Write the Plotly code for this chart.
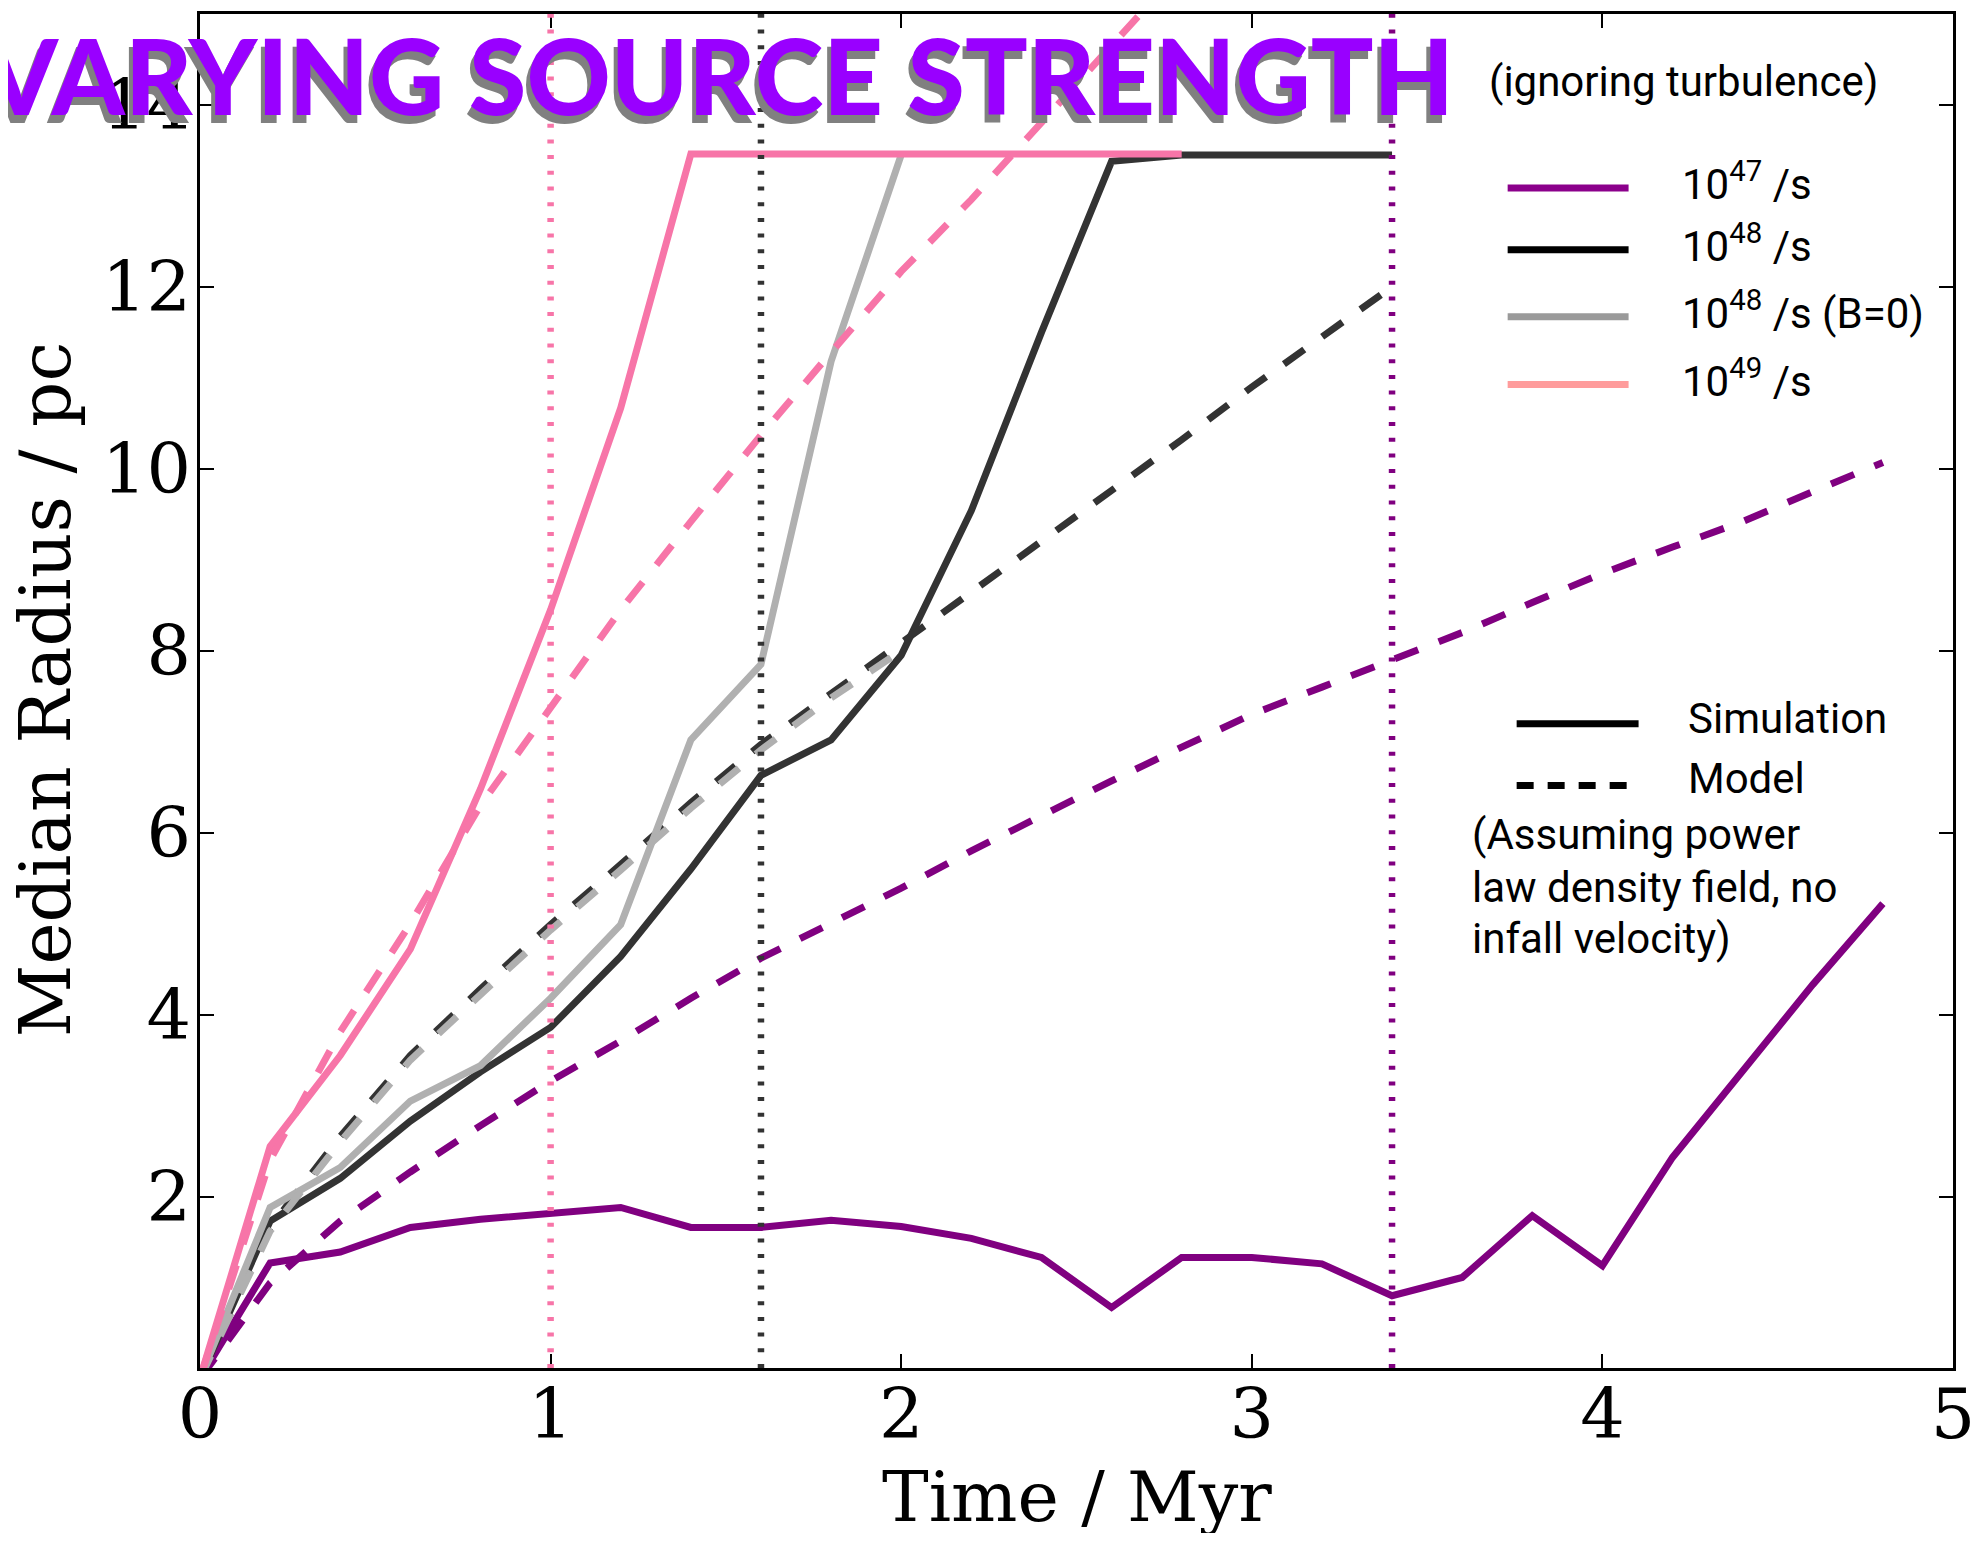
import plotly.graph_objects as go

# ---------------- data ----------------
times_47 = [0, 0.2, 0.4, 0.6, 0.8, 1.0, 1.2, 1.4, 1.6, 1.8, 2.0, 2.2, 2.4, 2.6, 2.8,
            3.0, 3.2, 3.4, 3.6, 3.8, 4.0, 4.2, 4.4, 4.6, 4.8]
sim_47 = [0, 1.27, 1.39, 1.66, 1.75, 1.82, 1.88, 1.66, 1.66, 1.74, 1.67, 1.54, 1.33, 0.78,
          1.33, 1.33, 1.26, 0.91, 1.11, 1.79, 1.24, 2.43, 3.39, 4.33, 5.22]
model_47 = [0, 1.05, 1.73, 2.27, 2.78, 3.27, 3.71, 4.18, 4.62, 5.0, 5.39, 5.8, 6.19, 6.57,
            6.94, 7.30, 7.6, 7.89, 8.2, 8.53, 8.85, 9.14, 9.42, 9.75, 10.07]

times_48 = [0, 0.2, 0.4, 0.6, 0.8, 1.0, 1.2, 1.4, 1.6, 1.8, 2.0, 2.2, 2.4, 2.6, 2.8,
            3.0, 3.2, 3.4]
sim_48 = [0, 1.73, 2.20, 2.83, 3.37, 3.86, 4.64, 5.6, 6.63, 7.02, 7.95, 9.54, 11.5, 13.38,
          13.45, 13.45, 13.45, 13.45]
model_48 = [0, 1.66, 2.66, 3.55, 4.28, 4.99, 5.65, 6.33, 6.97, 7.53, 8.08, 8.65, 9.2, 9.75,
            10.32, 10.9, 11.45, 12.0]

times_48b = [0, 0.2, 0.4, 0.6, 0.8, 1.0, 1.2, 1.4, 1.6, 1.8, 2.0]
sim_48b = [0, 1.88, 2.32, 3.05, 3.44, 4.18, 4.99, 7.02, 7.85, 11.18, 13.45]
model_48b = [0, 1.62, 2.6, 3.5, 4.22, 4.93, 5.59, 6.27, 6.91, 7.48, 8.0]

times_49 = [0, 0.2, 0.4, 0.6, 0.8, 1.0, 1.2, 1.4, 1.6, 1.8, 2.0, 2.2, 2.4, 2.6, 2.8]
sim_49 = [0, 2.55, 3.55, 4.72, 6.48, 8.45, 10.67, 13.46, 13.46, 13.46, 13.46, 13.46, 13.46,
          13.46, 13.46]
model_49 = [0, 2.4, 3.81, 5.0, 6.3, 7.36, 8.45, 9.42, 10.37, 11.28, 12.17, 12.96, 13.8,
            14.65, 15.5]

marker_times = [1.0, 1.6, 3.4]

x_ticks = [0, 1, 2, 3, 4, 5]
y_ticks = [2, 4, 6, 8, 10, 12, 14]

legend_labels = ["10<sup>47</sup> /s", "10<sup>48</sup> /s", "10<sup>48</sup> /s (B=0)",
                 "10<sup>49</sup> /s"]

# ---------------- styles ----------------
C47, C48, C48B, C49 = "#800080", "#333333", "#b0b0b0", "#f775a8"
LEG_COLORS = ["#8b008b", "#000000", "#9a9a9a", "#ff9c9c"]
MARK_COLORS = [C49, C48, C47]

# page has an 8px body margin: work in page pixels, convert to figure paper coords
OFF = 8
FW, FH = 1970, 1525
P_L, P_R, P_T, P_B = 199.6, 1953.6, 10.7, 1367.7   # plot area in page pixels
ML = P_L - OFF
MR = FW - (P_R - OFF)
MT = P_T - OFF
MB = FH - (P_B - OFF)
PW, PH = P_R - P_L, P_B - P_T


def px(x):
    return (x - P_L) / PW


def py(y):
    return (P_B - y) / PH


LW = 7
DASH = "25px,22px"

fig = go.Figure()

series = [
    (times_47, sim_47, model_47, C47),
    (times_48, sim_48, model_48, C48),
    (times_48b, sim_48b, model_48b, C48B),
    (times_49, sim_49, model_49, C49),
]
for t, s, m, c in series:
    fig.add_trace(go.Scatter(x=t, y=s, mode="lines", line=dict(color=c, width=LW),
                             showlegend=False, hoverinfo="skip"))
    fig.add_trace(go.Scatter(x=t, y=m, mode="lines",
                             line=dict(color=c, width=LW, dash=DASH),
                             showlegend=False, hoverinfo="skip"))

for tm, c in zip(marker_times, MARK_COLORS):
    fig.add_shape(type="line", xref="x", yref="paper", x0=tm, x1=tm, y0=0, y1=1,
                  line=dict(color=c, width=6.5, dash="4px,11.7px"))

SERIF = "DejaVu Serif"
SANS = "Roboto"

fig.update_xaxes(range=[0, 5], tickvals=x_ticks, ticks="inside", ticklen=14, tickwidth=2,
                 tickcolor="black", showline=True, linewidth=3, linecolor="black",
                 mirror="ticks", showgrid=False, zeroline=False, ticklabelstandoff=-17,
                 tickfont=dict(family=SERIF, size=70, color="black"))
fig.update_yaxes(range=[0.115, 15.0], tickvals=y_ticks, ticks="inside", ticklen=14,
                 tickwidth=2, tickcolor="black", showline=True, linewidth=3,
                 linecolor="black", mirror="ticks", showgrid=False, zeroline=False,
                 ticklabelstandoff=-8,
                 tickfont=dict(family=SERIF, size=70, color="black"))

ann = []
# axis titles
ann.append(dict(text="Time / Myr", x=px(1077), y=py(1497), xref="paper", yref="paper",
                showarrow=False, xanchor="center", yanchor="middle",
                font=dict(family=SERIF, size=70, color="black")))
ann.append(dict(text="Median Radius / pc", x=px(45), y=py(687), xref="paper",
                yref="paper", showarrow=False, xanchor="center", yanchor="middle",
                textangle=-90, font=dict(family=SERIF, size=71, color="black")))

# big title with drop shadow
ann.append(dict(text="VARYING SOURCE STRENGTH", x=px(1456), y=py(71), xref="paper",
                yref="paper", showarrow=False, xanchor="right", yanchor="middle",
                font=dict(family="Lato", weight=900, size=104, color="#9900ff",
                          shadow="-4px 8px 0px #808080")))
ann.append(dict(text="(ignoring turbulence)", x=px(1487), y=py(78), xref="paper",
                yref="paper", showarrow=False, xanchor="left", yanchor="middle",
                font=dict(family=SANS, size=42, color="black")))

# series legend
leg_y = [185, 247, 314, 382]
for lab, c, yy in zip(legend_labels, LEG_COLORS, leg_y):
    fig.add_shape(type="line", xref="paper", yref="paper", x0=px(1508), x1=px(1629),
                  y0=py(yy), y1=py(yy), line=dict(color=c, width=7))
    ann.append(dict(text=lab, x=px(1680), y=py(yy - 6), xref="paper", yref="paper",
                    showarrow=False, xanchor="left", yanchor="middle",
                    font=dict(family=SANS, size=42, color="black")))

# style legend
fig.add_shape(type="line", xref="paper", yref="paper", x0=px(1517), x1=px(1639),
              y0=py(722), y1=py(722), line=dict(color="black", width=7))
fig.add_shape(type="line", xref="paper", yref="paper", x0=px(1517), x1=px(1630),
              y0=py(784), y1=py(784), line=dict(color="black", width=7, dash="17px,14px"))
ann.append(dict(text="Simulation", x=px(1686), y=py(717), xref="paper", yref="paper",
                showarrow=False, xanchor="left", yanchor="middle",
                font=dict(family=SANS, size=42, color="black")))
ann.append(dict(text="Model", x=px(1686), y=py(777), xref="paper", yref="paper",
                showarrow=False, xanchor="left", yanchor="middle",
                font=dict(family=SANS, size=42, color="black")))
for txt, yy in zip(["(Assuming power", "law density field, no", "infall velocity)"],
                   [833, 886, 937]):
    ann.append(dict(text=txt, x=px(1470), y=py(yy), xref="paper", yref="paper",
                    showarrow=False, xanchor="left", yanchor="middle",
                    font=dict(family=SANS, size=42, color="black")))

fig.update_layout(width=FW, height=FH, margin=dict(l=ML, r=MR, t=MT, b=MB),
                  paper_bgcolor="white", plot_bgcolor="white", showlegend=False,
                  annotations=ann)

fig.write_html("out.html")
